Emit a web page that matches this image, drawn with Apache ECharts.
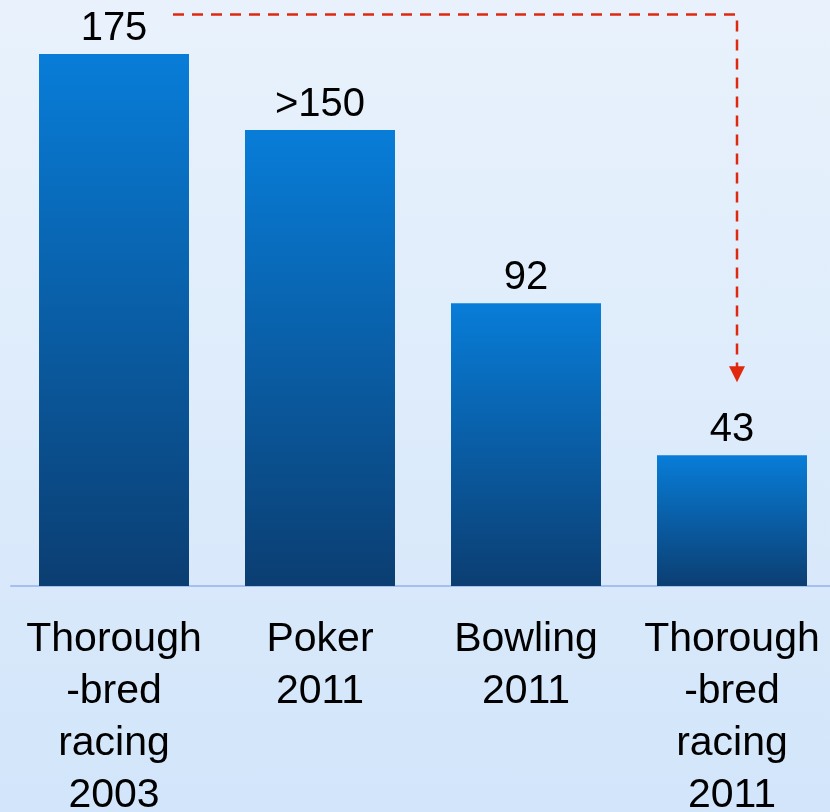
<!DOCTYPE html>
<html>
<head>
<meta charset="utf-8">
<script src="https://cdn.jsdelivr.net/npm/echarts@6/dist/echarts.min.js"></script>
<style>
html, body { margin: 0; padding: 0; }
#chart {
    width: 830px;
    height: 812px;
    background: linear-gradient(to bottom, #e9f2fc 0%, #d2e5fa 100%);
}
</style>
</head>
<body>
<div id="chart"></div>
<script>
var categories = ['Thorough\n-bred\nracing\n2003', 'Poker\n2011', 'Bowling\n2011', 'Thorough\n-bred\nracing\n2011'];
var values = [175, 150, 93, 43];
var valueLabels = ['175', '>150', '92', '43'];
// arrow from above first bar to the last one
var arrowTop = 188;
var arrowTip = 67;

var chart = echarts.init(document.getElementById('chart'));
var option = {
    animation: false,
    textStyle: { fontFamily: 'Liberation Sans, Arial, sans-serif' },
    grid: { left: 11, right: -5, top: 54, bottom: 226, outerBoundsMode: 'none', containLabel: false },
    xAxis: {
        type: 'category',
        data: categories,
        axisLine: { lineStyle: { color: '#a3c0f2', width: 2 } },
        axisTick: { show: false },
        axisLabel: {
            interval: 0,
            color: '#000',
            fontSize: 41,
            lineHeight: 52,
            margin: 28
        }
    },
    yAxis: {
        type: 'value',
        min: 0,
        max: 175,
        show: false,
        splitLine: { show: false }
    },
    series: [{
        type: 'bar',
        data: values,
        barWidth: 150,
        itemStyle: {
            color: new echarts.graphic.LinearGradient(0, 0, 0, 1, [
                { offset: 0, color: '#087dd8' },
                { offset: 1, color: '#0b3e72' }
            ])
        },
        label: {
            show: true,
            position: 'top',
            distance: 5,
            color: '#000',
            fontSize: 40,
            formatter: function (p) { return valueLabels[p.dataIndex]; }
        }
    }]
};
chart.setOption(option);

var p0 = chart.convertToPixel({ gridIndex: 0 }, [0, arrowTop]);
var p3 = chart.convertToPixel({ gridIndex: 0 }, [3, arrowTip]);
var x0 = p0[0] + 59, yTop = p0[1], x3 = p3[0] + 5, yTip = p3[1];
chart.setOption({
    graphic: [{
        type: 'polyline',
        shape: { points: [[x0, yTop], [x3, yTop], [x3, yTip - 14]] },
        style: { stroke: '#e0280e', lineWidth: 2.5, lineDash: [11, 8], fill: null }
    }, {
        type: 'polygon',
        shape: { points: [[x3 - 8, yTip - 16], [x3 + 8, yTip - 16], [x3, yTip]] },
        style: { fill: '#e0280e' }
    }]
});
</script>
</body>
</html>
